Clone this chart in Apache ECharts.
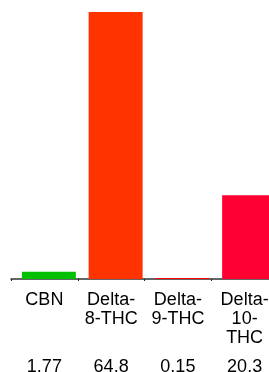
<!DOCTYPE html>
<html>
<head>
<meta charset="utf-8">
<script src="https://cdn.jsdelivr.net/npm/echarts@6/dist/echarts.min.js"></script>
<style>
  html, body { margin: 0; padding: 0; background: #fff; }
  #chart { width: 269px; height: 372px; }
</style>
</head>
<body>
<div id="chart"></div>
<script>
var categories = ['CBN', 'Delta-8-THC', 'Delta-9-THC', 'Delta-10-THC'];
var tickLabels = ['CBN', 'Delta-\n8-THC', 'Delta-\n9-THC', 'Delta-\n10-\nTHC'];
var values = [1.77, 64.8, 0.15, 20.3];
var barColors = ['#00c000', '#ff3300', '#ff0000', '#ff0033'];

var chart = echarts.init(document.getElementById('chart'));
var labelFont = {
    fontFamily: '"Liberation Sans", Arial, sans-serif',
    fontSize: 18,
    lineHeight: 19,
    color: '#000'
};

var option = {
    backgroundColor: '#fff',
    animation: false,
    grid: {
        left: 11,
        top: 12,
        width: 267,
        height: 267,
        outerBoundsMode: 'none'
    },
    xAxis: [
        {
            type: 'category',
            data: categories,
            offset: 1.5,
            axisLine: { lineStyle: { color: '#333', width: 1.5 } },
            axisTick: { show: true, length: 2, lineStyle: { color: '#222' } },
            axisLabel: Object.assign({
                interval: 0,
                margin: 10,
                formatter: function (v, i) { return tickLabels[i]; }
            }, labelFont)
        },
        {
            type: 'category',
            position: 'bottom',
            data: categories,
            axisLine: { show: false },
            axisTick: { show: false },
            axisLabel: Object.assign({
                interval: 0,
                margin: 79,
                formatter: function (v, i) { return String(values[i]); }
            }, labelFont)
        }
    ],
    yAxis: {
        type: 'value',
        min: 0,
        max: 64.8,
        show: false,
        splitLine: { show: false }
    },
    series: [
        {
            type: 'bar',
            data: values.map(function () { return 0; }),
            barWidth: 9,
            barGap: '0%',
            itemStyle: { color: 'transparent' },
            silent: true
        },
        {
            name: 'value',
            type: 'bar',
            data: values,
            barWidth: 54,
            barGap: '0%',
            barMinHeight: 1,
            itemStyle: {
                color: function (p) { return barColors[p.dataIndex]; }
            }
        }
    ]
};
chart.setOption(option);
</script>
</body>
</html>
